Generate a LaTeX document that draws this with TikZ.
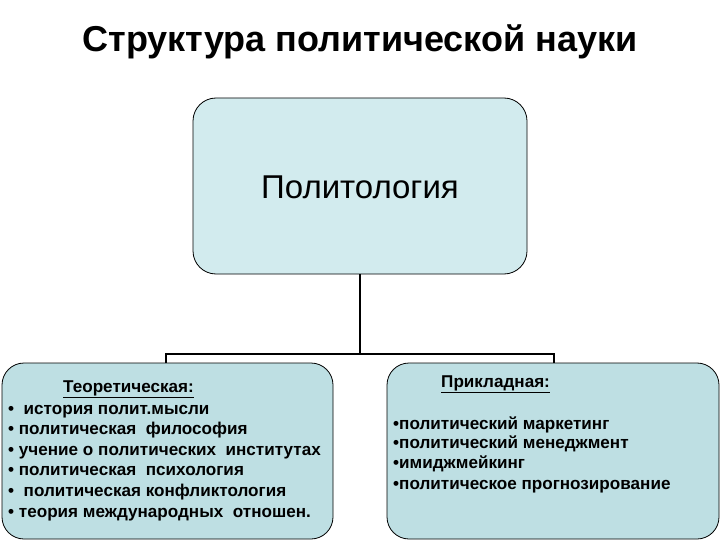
\documentclass[tikz,border=0pt]{standalone}
\usepackage{fontspec}
\setmainfont{Liberation Sans}
\definecolor{topfill}{HTML}{D2EBEE}
\definecolor{botfill}{HTML}{BEDFE3}
\tikzset{
  topbox/.style={draw=black, line width=0.8pt, fill=topfill, rounded corners=23pt},
  botbox/.style={draw=black, line width=0.8pt, fill=botfill, rounded corners=22pt},
  conn/.style={draw=black, line width=1.6pt},
  itemtext/.style={anchor=base west, inner sep=0pt, font=\fontsize{17.1}{20}\selectfont\bfseries},
}
\begin{document}
\begin{tikzpicture}[x=1pt,y=-1pt]
\useasboundingbox (0,0) rectangle (720,540);
\node[font=\fontsize{36}{40}\selectfont\bfseries, inner sep=0pt] (title) at (360,42) {Структура политической науки};
% boxes
\draw[topbox] (193,98) rectangle (527,274);
\node[inner sep=0pt, font=\fontsize{33}{36}\selectfont] (polit) at (360,187) {Политология};
\coordinate (topb) at (360,274);
\draw[botbox] (2,363) rectangle (333,539);
\draw[botbox] (387,363) rectangle (719,539);
\coordinate (lt) at (166,363);
\coordinate (rt) at (554,363);
% connectors
\coordinate (mid) at (360,354);
\draw[conn] (topb) -- (mid);
\draw[conn] (lt) -- (166,354) -- (554,354) -- (rt);
% left text
\node[itemtext] (lh) at (63,392) {\underline{Теоретическая:}};
\node[itemtext] (l1) at (8,414) {\textbullet\ \ история полит.мысли};
\node[itemtext] (l2) at (8,434.5) {\textbullet\ политическая\ \ философия};
\node[itemtext] (l3) at (8,455) {\textbullet\ учение о политических\ \ институтах};
\node[itemtext] (l4) at (8,475.5) {\textbullet\ политическая\ \ психология};
\node[itemtext] (l5) at (8,496) {\textbullet\ \ политическая конфликтология};
\node[itemtext] (l6) at (8,517) {\textbullet\ теория международных\ \ отношен.};
% right text
\node[itemtext] (rh) at (441,387) {\underline{Прикладная:}};
\node[itemtext] (r1) at (393,429) {\textbullet политический маркетинг};
\node[itemtext] (r2) at (393,448.5) {\textbullet политический менеджмент};
\node[itemtext] (r3) at (393,468.5) {\textbullet имиджмейкинг};
\node[itemtext] (r4) at (393,489) {\textbullet политическое прогнозирование};
\end{tikzpicture}
\end{document}
